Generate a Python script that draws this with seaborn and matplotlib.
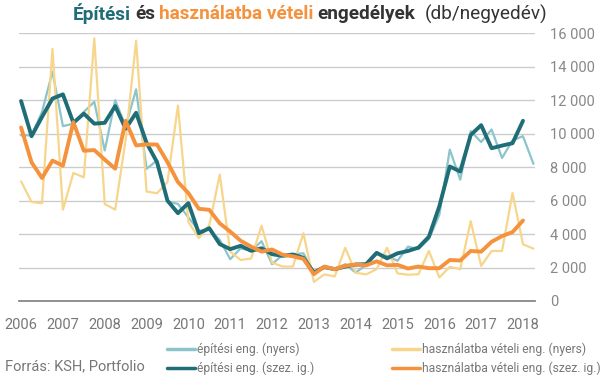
import matplotlib
matplotlib.use("Agg")
import matplotlib.pyplot as plt
from matplotlib.lines import Line2D
from matplotlib.ticker import FuncFormatter
import numpy as np
import pandas as pd
import seaborn as sns

# quarterly data, 2006 Q1 ...
years = list(range(2006, 2019))

epit_nyers = [9900, 9900, 11300, 13700, 10450, 10600, 11300, 11900, 9000, 12000,
              10450, 12650, 7900, 8400, 5950, 5800, 5000, 4200, 4250, 3650,
              2500, 3150, 3000, 3570, 2200, 2750, 2800, 2850, 1700, 2000,
              1900, 2200, 1700, 2150, 2800, 2700, 2400, 3250, 3100, 3700,
              5150, 9050, 7250, 10150, 9500, 10250, 8550, 9600, 9850, 8200]

hasz_nyers = [7150, 5920, 5840, 15070, 5460, 7650, 7390, 15700, 5800, 5460,
              9640, 15560, 6540, 6440, 7110, 11680, 4730, 3760, 4530, 7560,
              2950, 2450, 2540, 4500, 2300, 2060, 2060, 4050, 1140, 1590,
              1470, 3180, 1690, 1590, 1900, 3180, 1650, 1570, 1600, 2990,
              1410, 2040, 1900, 4770, 2100, 2990, 2990, 6460, 3390, 3130]

epit_szez = [11950, 9850, 11000, 12100, 12350, 10650, 11200, 10600, 10650, 11650,
             10300, 11250, 9450, 8300, 6000, 5250, 5850, 4050, 4350, 3400,
             3100, 3300, 3000, 3150, 2800, 2700, 2780, 2580, 1700, 2030,
             1900, 2060, 2180, 2200, 2880, 2550, 2850, 2990, 3190, 3840,
             5660, 8040, 7740, 9920, 10510, 9130, 9290, 9430, 10770]

hasz_szez = [10370, 8290, 7350, 8390, 8090, 10690, 8980, 9020, 8450, 7910,
             10770, 9300, 9360, 9350, 8300, 7110, 6450, 5510, 5450, 4640,
             4150, 3600, 3250, 2950, 3080, 2770, 2670, 2520, 1600, 2060,
             1900, 2100, 2180, 2130, 2370, 2130, 2160, 1940, 2060, 1960,
             1960, 2450, 2420, 2990, 2950, 3540, 3880, 4120, 4810]

labels = ["építési eng. (nyers)", "építési eng. (szez. ig.)",
          "használatba vételi eng. (nyers)", "használatba vételi eng. (szez. ig.)"]
colors = ["#8cc4cc", "#1f6d77", "#f7d68c", "#f5923e"]
widths = [1.6, 2.8, 1.6, 2.8]

rows = []
for lab, vals in zip(labels, [epit_nyers, epit_szez, hasz_nyers, hasz_szez]):
    for i, v in enumerate(vals):
        rows.append({"q": i, "value": v, "series": lab})
df = pd.DataFrame(rows)

sns.set_style("white")
plt.rcParams["font.family"] = ["Roboto", "DejaVu Sans"]

fig = plt.figure(figsize=(6.05, 3.78), dpi=100)
ax = fig.add_axes([19 / 605, 1 - 301 / 378, (535 - 19) / 605, (301 - 33.3) / 378])

# raw series behind, seasonally adjusted on top
for idx in [0, 2, 1, 3]:
    sub = df[df["series"] == labels[idx]]
    sns.lineplot(data=sub, x="q", y="value", ax=ax, color=colors[idx],
                 linewidth=widths[idx], legend=False)

ax.set_xlim(-0.2, 49.15)
ax.set_ylim(0, 16000)
ax.set_xlabel("")
ax.set_ylabel("")
ax.set_xticks([4 * k for k in range(len(years))])
ax.set_xticklabels([str(y) for y in years])
ax.set_yticks(range(0, 16001, 2000))
ax.yaxis.set_major_formatter(FuncFormatter(lambda v, p: f"{v:,.0f}".replace(",", " ")))
ax.yaxis.tick_right()
ax.tick_params(axis="x", length=0, pad=12, labelsize=10.5, colors="#777777")
ax.tick_params(axis="y", length=0, pad=11, labelsize=10.5, colors="#888888")
ax.grid(axis="y", color="#cccccc", linewidth=1)
for s in ["top", "left", "right"]:
    ax.spines[s].set_visible(False)
ax.spines["bottom"].set_color("#888888")
ax.spines["bottom"].set_linewidth(1.3)

handles = [Line2D([], [], color=c, linewidth=2.5) for c in colors]
fig.legend(handles, labels, ncol=2, loc="upper left", frameon=False,
           bbox_to_anchor=(161 / 605, 1 - 337 / 378), fontsize=8.7,
           handlelength=2.3, handletextpad=0.15, columnspacing=6.5,
           labelspacing=0.4, borderpad=0, labelcolor="#777777")

fig.text(5 / 605, 1 - 366 / 378, "Forrás: KSH, Portfolio", fontsize=10.5,
         color="#777777", va="center", ha="left")

# multi-coloured title
pieces = [("Építési", "#1f6d77", "bold"), ("és", "#333333", "bold"),
          ("használatba vételi", "#f5923e", "bold"), ("engedélyek", "#333333", "bold"),
          ("(db/negyedév)", "#333333", "normal")]
gaps = [4, 4, 4, 9, 0]
renderer = fig.canvas.get_renderer()
x = 73
for (txt, col, wt), g in zip(pieces, gaps):
    t = fig.text(x / 605, 1 - 14 / 378, txt, fontsize=13.7, color=col,
                 fontweight=wt, va="center", ha="left")
    x += t.get_window_extent(renderer).width + g

fig.savefig("out.png", dpi=100)
